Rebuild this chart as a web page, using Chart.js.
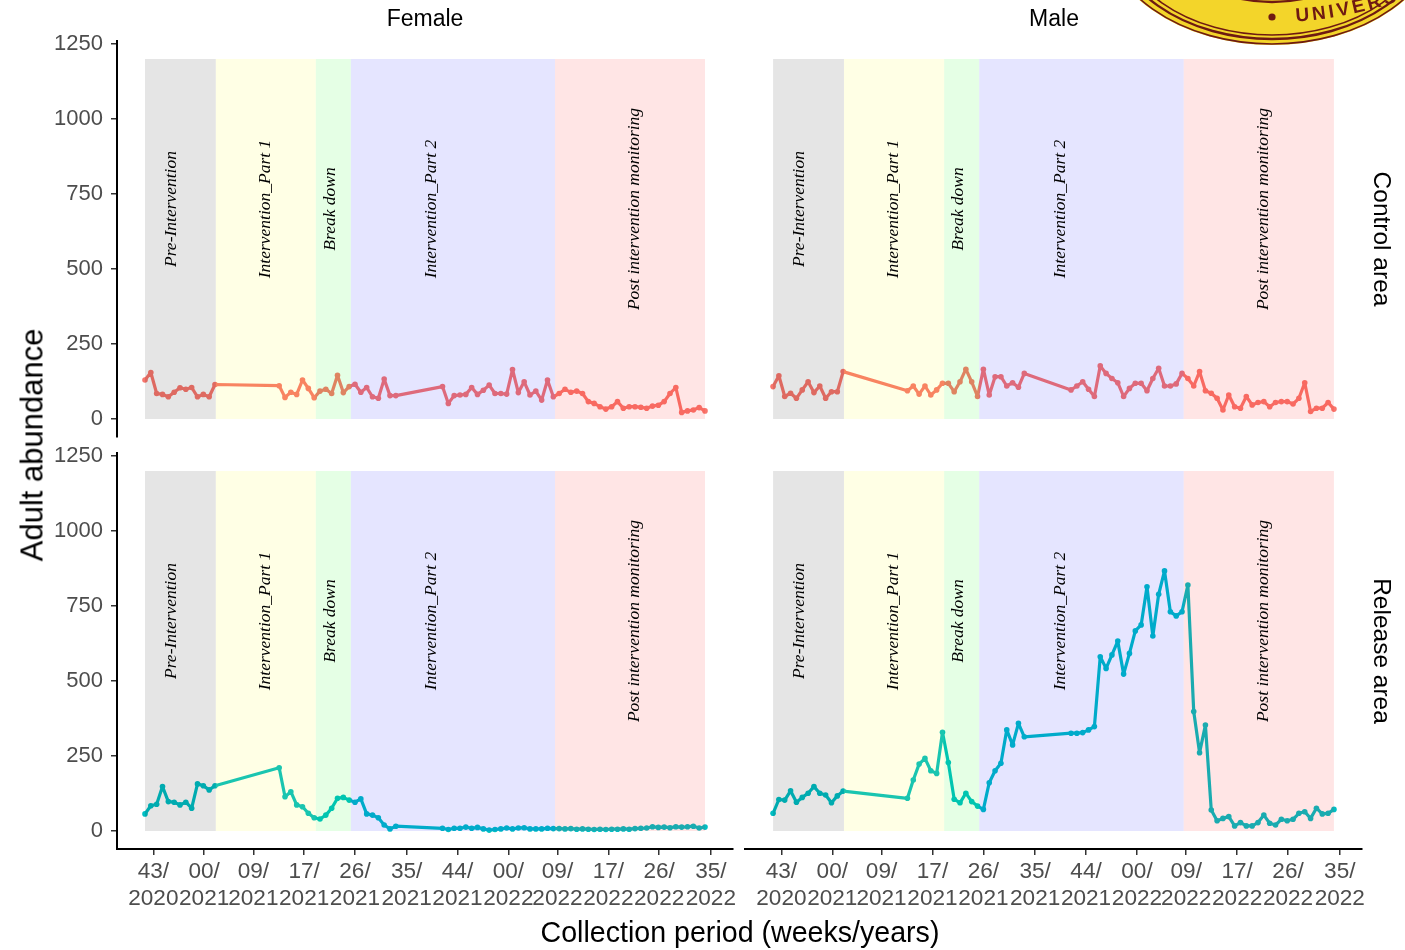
<!DOCTYPE html>
<html>
<head>
<meta charset="utf-8">
<title>Adult abundance by collection period</title>
<script src="https://cdn.jsdelivr.net/npm/chart.js@4.4.1/dist/chart.umd.min.js"></script>
<style>
  html, body { margin: 0; padding: 0; background: #fff; }
  #page { position: relative; width: 1405px; height: 950px; overflow: hidden; background: #fff; }
  canvas.panel { position: absolute; }
  .lbl { position: absolute; white-space: nowrap; line-height: 1; color: #000;
         font-family: 'Liberation Sans', Arial, sans-serif; transform: translate(-50%, -50%); }
</style>
</head>
<body>
<div id="page">
  <canvas id="femaleControl" class="panel" width="740" height="445" style="left:0px;top:0px"></canvas>
  <canvas id="maleControl" class="panel" width="665" height="445" style="left:740px;top:0px"></canvas>
  <canvas id="femaleRelease" class="panel" width="740" height="505" style="left:0px;top:445px"></canvas>
  <canvas id="maleRelease" class="panel" width="665" height="505" style="left:740px;top:445px"></canvas>
  <canvas id="seal" width="305" height="60" style="position:absolute;left:1100px;top:0px"></canvas>

  <div class="lbl" style="left:425px;top:18px;font-size:23px">Female</div>
  <div class="lbl" style="left:1054px;top:18px;font-size:23px">Male</div>
  <div class="lbl" style="left:1382px;top:239px;font-size:24.5px;transform:translate(-50%,-50%) rotate(90deg)">Control area</div>
  <div class="lbl" style="left:1382px;top:651px;font-size:24.5px;transform:translate(-50%,-50%) rotate(90deg)">Release area</div>
  <div class="lbl" style="left:32px;top:445px;font-size:31px;transform:translate(-50%,-50%) rotate(-90deg)">Adult abundance</div>
  <div class="lbl" style="left:740px;top:932px;font-size:28.6px">Collection period (weeks/years)</div>
</div>

<script>
// ---- Collection schedule: weeks counted from the first collection ----
const firstCollection = '2020-10-22';
const sampleWeek = [
  0, 1, 2, 3, 4, 5, 6, 7, 8, 9, 10, 11, 12,
  23, 24, 25, 26, 27, 28, 29, 30, 31, 32, 33, 34, 35, 36, 37, 38, 39, 40, 41, 42, 43,
  51, 52, 53, 54, 55, 56, 57, 58, 59, 60, 61, 62, 63, 64, 65, 66, 67, 68, 69, 70,
  71, 72, 73, 74, 75, 76, 77, 78, 79, 80, 81, 82, 83, 84, 85, 86, 87, 88, 89, 90,
  91, 92, 93, 94, 95, 96
];

// ---- Adult abundance per collection ----
const femaleControl = [
  130, 155, 85, 82, 74, 89, 104, 99, 105, 74, 82, 74, 115,
  111, 72, 89, 82, 130, 102, 71, 93, 99, 85, 146, 88, 108, 116, 89, 105, 74, 69, 133, 78, 78,
  108, 52, 78, 80, 82, 105, 82, 96, 113, 85, 85, 83, 165, 88, 124, 80, 93, 63, 130, 74,
  85, 99, 89, 93, 85, 58, 52, 41, 33, 41, 58, 36, 41, 41, 39, 36, 43, 46, 58, 85,
  105, 22, 27, 30, 38, 27
];
const maleControl = [
  108, 144, 75, 86, 69, 97, 124, 88, 110, 69, 91, 91, 158,
  94, 110, 83, 110, 80, 97, 119, 119, 91, 124, 166, 124, 75, 166, 80, 141, 141, 110, 121, 106, 152,
  97, 110, 124, 99, 75, 177, 152, 135, 121, 75, 102, 119, 119, 94, 135, 169, 110, 110, 117, 152,
  135, 110, 158, 94, 86, 69, 30, 80, 41, 36, 75, 47, 55, 58, 41, 55, 58, 58, 50, 69,
  121, 25, 36, 36, 55, 33
];
const femaleRelease = [
  57, 84, 89, 148, 98, 96, 87, 96, 76, 157, 151, 137, 151,
  211, 114, 131, 87, 81, 59, 44, 40, 53, 76, 109, 112, 103, 96, 107, 57, 53, 44, 20, 7, 16,
  9, 5, 9, 9, 13, 9, 12, 7, 3, 5, 7, 10, 7, 10, 11, 7, 7, 7, 9, 8,
  8, 7, 8, 6, 7, 6, 5, 6, 5, 6, 6, 7, 6, 8, 9, 10, 14, 12, 13, 11,
  14, 13, 14, 16, 10, 13
];
const maleRelease = [
  59, 105, 103, 134, 96, 112, 126, 148, 126, 120, 94, 117, 133,
  109, 170, 223, 242, 201, 192, 329, 228, 106, 94, 126, 98, 83, 72, 161, 201, 226, 337, 287, 359, 314,
  326, 326, 328, 337, 348, 581, 542, 587, 633, 523, 592, 667, 687, 814, 650, 789, 867, 731, 717, 731,
  820, 398, 261, 353, 70, 34, 42, 48, 17, 28, 17, 17, 28, 53, 26, 20, 39, 34, 39, 59,
  64, 42, 76, 57, 59, 72
];

// ---- Programme phases ----
const phaseNames  = ['Pre-Intervention', 'Intervention_Part 1', 'Break down', 'Intervention_Part 2', 'Post intervention monitoring'];
const phaseStarts = ['2020-10-22', '2021-01-15', '2021-05-15', '2021-06-26', '2022-02-26'];
const phaseEnds   = ['2021-01-15', '2021-05-15', '2021-06-26', '2022-02-26', '2022-08-25'];
const phaseLabelDates = ['2020-11-23', '2021-03-15', '2021-06-01', '2021-10-01', '2022-06-01'];
const phaseFills  = ['rgba(0,0,0,0.1)', 'rgba(255,255,0,0.1)', 'rgba(0,255,0,0.1)', 'rgba(0,0,255,0.1)', 'rgba(255,0,0,0.1)'];
const phaseTop = 1200;
const phaseLabelAt = 700;

// ---- Axis ticks ----
const tickDates = ['2020-11-01', '2021-01-01', '2021-03-01', '2021-05-01', '2021-07-01', '2021-09-01',
                   '2021-11-01', '2022-01-01', '2022-03-01', '2022-05-01', '2022-07-01', '2022-09-01'];
const tickWeeks = ['43/', '00/', '09/', '17/', '26/', '35/', '44/', '00/', '09/', '17/', '26/', '35/'];
const tickYears = ['2020', '2021', '2021', '2021', '2021', '2021', '2021', '2022', '2022', '2022', '2022', '2022'];
const yTicks = [0, 250, 500, 750, 1000, 1250];

// ---- Helpers ----
const ORIGIN = Date.UTC(2020, 10, 1);
function dayOf(iso) {
  const [y, m, d] = iso.split('-').map(Number);
  return (Date.UTC(y, m - 1, d) - ORIGIN) / 86400000;
}
const startDay = dayOf(firstCollection);
const sampleDays = sampleWeek.map(w => startDay + 7 * w);
const tickDays = tickDates.map(dayOf);

// ggplot-like 5% expansion around the data
const dMin = Math.min(...sampleDays), dMax = Math.max(...sampleDays);
const xPad = 0.05 * (dMax - dMin);
const yLow = 0, yHigh = phaseTop;
const yPad = 0.05 * (yHigh - yLow);

const CONTROL = '#F8766D';
const RELEASE = '#00BFC4';

// phase bands are laid over the series, then the italic phase names on top
const phasePlugin = {
  id: 'phaseBands',
  afterDatasetsDraw(chart) {
    const { ctx, scales: { x, y } } = chart;
    const top = y.getPixelForValue(phaseTop);
    const bottom = y.getPixelForValue(0);
    ctx.save();
    phaseNames.forEach((name, i) => {
      const x0 = x.getPixelForValue(dayOf(phaseStarts[i]));
      const x1 = x.getPixelForValue(dayOf(phaseEnds[i]));
      ctx.fillStyle = phaseFills[i];
      ctx.fillRect(x0, top, x1 - x0, bottom - top);
    });
    ctx.fillStyle = '#000';
    ctx.font = 'italic 17.5px "Liberation Serif", "Times New Roman", serif';
    ctx.textAlign = 'center';
    ctx.textBaseline = 'middle';
    const ly = y.getPixelForValue(phaseLabelAt);
    phaseNames.forEach((name, i) => {
      ctx.save();
      ctx.translate(x.getPixelForValue(dayOf(phaseLabelDates[i])), ly);
      ctx.rotate(-Math.PI / 2);
      ctx.fillText(name, 0, 0);
      ctx.restore();
    });
    ctx.restore();
  }
};

const yTickFont = { family: '"Liberation Sans", Arial, sans-serif', size: 22 };
const xTickFont = { family: '"Liberation Sans", Arial, sans-serif', size: 22.6 };

function makePanel(id, values, color, cfg) {
  const points = sampleDays.map((d, i) => ({ x: d, y: values[i] }));
  return new Chart(document.getElementById(id), {
    type: 'line',
    data: {
      datasets: [{
        data: points,
        borderColor: color,
        backgroundColor: color,
        pointBackgroundColor: color,
        borderWidth: 3.2,
        borderJoinStyle: 'round',
        borderCapStyle: 'round',
        pointRadius: 2.8,
        pointHoverRadius: 2.8,
        pointBorderWidth: 0,
        tension: 0
      }]
    },
    options: {
      responsive: false,
      animation: false,
      devicePixelRatio: 1,
      events: [],
      layout: { padding: cfg.padding },
      plugins: { legend: { display: false }, tooltip: { enabled: false }, title: { display: false } },
      scales: {
        x: {
          type: 'linear',
          min: dMin - xPad,
          max: dMax + xPad,
          display: cfg.showX,
          afterBuildTicks: s => { s.ticks = tickDays.map(v => ({ value: v })); },
          afterFit: s => {
            if (cfg.showX) s.height = cfg.xHeight;
            s.paddingLeft = 0; s.paddingRight = 0;
          },
          ticks: {
            autoSkip: false, maxRotation: 0, minRotation: 0, padding: 3,
            color: '#4D4D4D', font: xTickFont,
            callback: (v, i) => [tickWeeks[i], tickYears[i]]
          },
          grid: { display: true, drawOnChartArea: false, drawTicks: true, tickLength: 6, color: '#333', lineWidth: 1.5 },
          border: { display: true, color: '#000', width: 2 }
        },
        y: {
          type: 'linear',
          min: yLow - yPad,
          max: yHigh + yPad,
          display: cfg.showY,
          afterBuildTicks: s => { s.ticks = yTicks.map(v => ({ value: v })); },
          afterFit: s => {
            if (cfg.showY) s.width = 117;
            s.paddingTop = 0; s.paddingBottom = 0;
          },
          ticks: { padding: 8, color: '#4D4D4D', font: yTickFont, callback: v => String(v) },
          grid: { display: true, drawOnChartArea: false, drawTicks: true, tickLength: 6, color: '#333', lineWidth: 1.5 },
          border: { display: true, color: '#000', width: 2 }
        }
      }
    },
    plugins: [phasePlugin]
  });
}

makePanel('femaleControl', femaleControl, CONTROL, { showX: false, showY: true,  padding: { top: 41, right: 7,  bottom: 8, left: 0 } });
makePanel('maleControl',   maleControl,   CONTROL, { showX: false, showY: false, padding: { top: 41, right: 43, bottom: 8, left: 5 } });
makePanel('femaleRelease', femaleRelease, RELEASE, { showX: true,  showY: true,  xHeight: 101, padding: { top: 8, right: 7,  bottom: 0, left: 0 } });
makePanel('maleRelease',   maleRelease,   RELEASE, { showX: true,  showY: false, xHeight: 101, padding: { top: 8, right: 43, bottom: 0, left: 5 } });

// ---- University seal in the top-right corner ----
(function drawSeal() {
  const c = document.getElementById('seal').getContext('2d');
  const cx = 172, cy = -75, rx = 170, ry = 120;
  const yellow = '#F3D52A', maroon = '#6E1A12';
  const ring = (dy, w) => {
    c.beginPath();
    c.ellipse(cx, cy, rx * (ry - dy) / ry, ry - dy, 0, 0, Math.PI * 2);
    c.lineWidth = w; c.stroke();
  };
  c.beginPath(); c.ellipse(cx, cy, rx, ry, 0, 0, Math.PI * 2); c.fillStyle = yellow; c.fill();
  c.strokeStyle = maroon;
  ring(1, 1.6); ring(6, 2.4); ring(10, 1.6); ring(43, 2.4);
  c.beginPath(); c.arc(cx, 17, 3.6, 0, Math.PI * 2); c.fillStyle = maroon; c.fill();
  // lettering follows a flat arc towards the right edge
  c.font = 'bold 19px "Liberation Sans", Arial, sans-serif';
  c.textAlign = 'center'; c.textBaseline = 'middle';
  const word = 'UNIVERSITY';
  const tcx = cx, tcy = -363, r = 380;
  let ang = Math.PI / 2 - 22 / r;
  for (const ch of word) {
    const w = c.measureText(ch).width + 3;
    const a = ang - (w / 2) / r;
    c.save();
    c.translate(tcx + r * Math.cos(a), tcy + r * Math.sin(a));
    c.rotate(a - Math.PI / 2);
    c.fillText(ch, 0, 0);
    c.restore();
    ang -= w / r;
  }
})();
</script>
</body>
</html>
